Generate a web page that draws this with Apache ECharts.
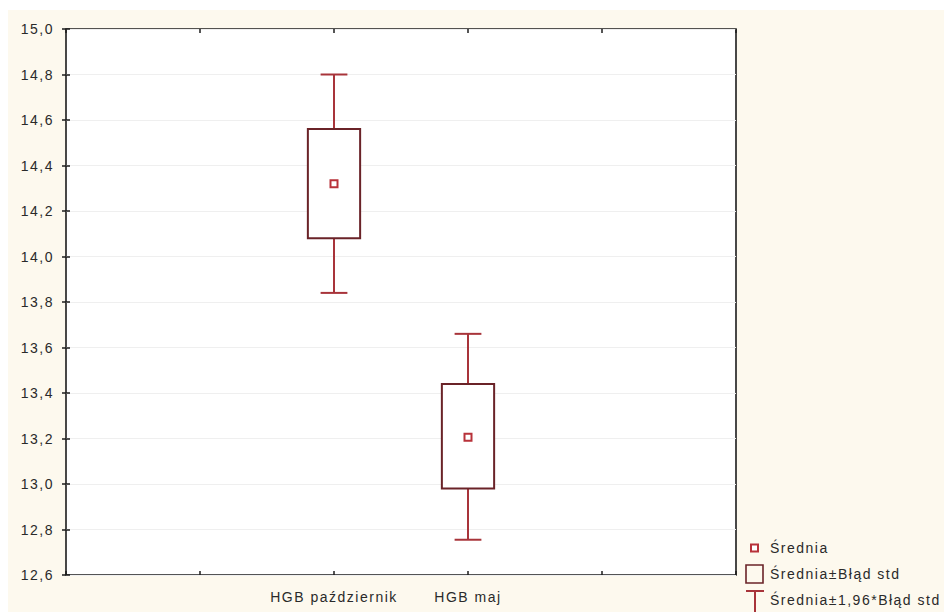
<!DOCTYPE html>
<html>
<head>
<meta charset="utf-8">
<script src="https://cdn.jsdelivr.net/npm/echarts@6/dist/echarts.min.js"></script>
<style>
  html, body { margin: 0; padding: 0; background: #ffffff; }
  #chart { width: 944px; height: 612px; }
  #chart svg text { letter-spacing: 1.5px; }
</style>
</head>
<body>
<div id="chart"></div>
<script>
// ---- data ----
const categories = ['HGB październik', 'HGB maj'];
const categoryPositions = [2, 3];        // position on the 0..5 x-scale
const means  = [14.32, 13.205];
const seLow  = [14.08, 12.98];
const seHigh = [14.56, 13.44];
const ciLow  = [13.84, 12.755];
const ciHigh = [14.80, 13.66];
const yTicks = [12.6, 12.8, 13.0, 13.2, 13.4, 13.6, 13.8, 14.0, 14.2, 14.4, 14.6, 14.8, 15.0];
const legendLabels = ['Średnia', 'Średnia±Błąd std', 'Średnia±1,96*Błąd std'];

// ---- styles ----
const FONT = '"Liberation Sans", Arial, sans-serif';
const BOX_COLOR = '#6a2328';
const WHISKER_COLOR = '#a8343a';
const MEAN_COLOR = '#b8323a';
const TEXT_COLOR = '#2a2a2a';

const seriesData = categories.map((c, i) => [categoryPositions[i], means[i], seLow[i], seHigh[i], ciLow[i], ciHigh[i]]);

const fmtY = v => (Math.round(v * 10) / 10).toFixed(1).replace('.', ',');

function renderItem(params, api) {
  const x = api.value(0);
  const pMean = api.coord([x, api.value(1)]);
  const pSeLo = api.coord([x, api.value(2)]);
  const pSeHi = api.coord([x, api.value(3)]);
  const pCiLo = api.coord([x, api.value(4)]);
  const pCiHi = api.coord([x, api.value(5)]);
  const unit = api.size([1, 0])[0];
  const boxW = unit * 0.39;
  const capW = unit * 0.2;
  const cx = pMean[0];
  const wStyle = { stroke: WHISKER_COLOR, lineWidth: 2, fill: null };
  return {
    type: 'group',
    children: [
      { type: 'line', shape: { x1: cx, y1: pCiHi[1], x2: cx, y2: pSeHi[1] }, style: wStyle },
      { type: 'line', shape: { x1: cx - capW / 2, y1: pCiHi[1], x2: cx + capW / 2, y2: pCiHi[1] }, style: wStyle },
      { type: 'line', shape: { x1: cx, y1: pSeLo[1], x2: cx, y2: pCiLo[1] }, style: wStyle },
      { type: 'line', shape: { x1: cx - capW / 2, y1: pCiLo[1], x2: cx + capW / 2, y2: pCiLo[1] }, style: wStyle },
      { type: 'rect', shape: { x: cx - boxW / 2, y: pSeHi[1], width: boxW, height: pSeLo[1] - pSeHi[1] },
        style: { stroke: BOX_COLOR, lineWidth: 2, fill: '#ffffff' } },
      { type: 'rect', shape: { x: cx - 3.5, y: pMean[1] - 3.5, width: 7, height: 7 },
        style: { stroke: MEAN_COLOR, lineWidth: 2, fill: '#ffffff' } }
    ]
  };
}

const legendX = 746, textX = 770;
const legendRows = [548, 574, 600];

const chart = echarts.init(document.getElementById('chart'), null, { renderer: 'svg', width: 944, height: 612 });
chart.setOption({
  animation: false,
  backgroundColor: '#ffffff',
  grid: {
    left: 66, right: 208, top: 29, bottom: 37,
    show: true, backgroundColor: '#ffffff', borderColor: '#1c1c1c', borderWidth: 1.6
  },
  xAxis: [
    {
      type: 'value', min: 0, max: 5, interval: 1, position: 'bottom',
      axisLine: { show: false },
      axisTick: { show: true, inside: true, length: 4, lineStyle: { color: '#1c1c1c', width: 1.5 } },
      splitLine: { show: false },
      axisLabel: {
        margin: 15, fontSize: 14, fontFamily: FONT, color: TEXT_COLOR,
        formatter: v => { const i = categoryPositions.indexOf(v); return i >= 0 ? categories[i] : ''; }
      }
    },
    {
      type: 'value', min: 0, max: 5, interval: 1, position: 'top',
      axisLine: { show: false },
      axisTick: { show: true, inside: true, length: 4, lineStyle: { color: '#1c1c1c', width: 1.5 } },
      splitLine: { show: false },
      axisLabel: { show: false }
    }
  ],
  yAxis: [
    {
      type: 'value', min: yTicks[0], max: yTicks[yTicks.length - 1], interval: 0.2,
      axisLine: { show: false },
      axisTick: { show: true, inside: true, length: 4, lineStyle: { color: '#1c1c1c', width: 1.5 } },
      splitLine: { show: true, lineStyle: { color: '#efefef', width: 1 } },
      axisLabel: { margin: 12, fontSize: 14, fontFamily: FONT, color: TEXT_COLOR, formatter: fmtY }
    },
    {
      type: 'value', min: yTicks[0], max: yTicks[yTicks.length - 1], interval: 0.2, position: 'right',
      axisLine: { show: false },
      axisTick: { show: true, inside: true, length: 4, lineStyle: { color: '#1c1c1c', width: 1.5 } },
      splitLine: { show: false },
      axisLabel: { show: false }
    }
  ],
  graphic: [
    { type: 'rect', z: -10, silent: true, shape: { x: 8, y: 10, width: 936, height: 602 }, style: { fill: '#fdf9ee' } },
    // legend: mean marker
    { type: 'rect', shape: { x: legendX + 5, y: legendRows[0] - 3.5, width: 7, height: 7 }, style: { stroke: MEAN_COLOR, lineWidth: 2, fill: '#ffffff' } },
    { type: 'text', style: { x: textX, y: legendRows[0], text: legendLabels[0], font: '14px ' + FONT, fill: TEXT_COLOR, textVerticalAlign: 'middle' } },
    // legend: box
    { type: 'rect', shape: { x: legendX, y: legendRows[1] - 9, width: 17, height: 18 }, style: { stroke: BOX_COLOR, lineWidth: 1.6, fill: 'transparent' } },
    { type: 'text', style: { x: textX, y: legendRows[1], text: legendLabels[1], font: '14px ' + FONT, fill: TEXT_COLOR, textVerticalAlign: 'middle' } },
    // legend: whisker
    { type: 'line', shape: { x1: legendX, y1: legendRows[2] - 9, x2: legendX + 18, y2: legendRows[2] - 9 }, style: { stroke: WHISKER_COLOR, lineWidth: 2 } },
    { type: 'line', shape: { x1: legendX + 9, y1: legendRows[2] - 9, x2: legendX + 9, y2: 612 }, style: { stroke: WHISKER_COLOR, lineWidth: 2 } },
    { type: 'text', style: { x: textX, y: legendRows[2], text: legendLabels[2], font: '14px ' + FONT, fill: TEXT_COLOR, textVerticalAlign: 'middle' } }
  ],
  series: [
    {
      type: 'custom',
      name: 'HGB',
      xAxisIndex: 0, yAxisIndex: 0,
      renderItem: renderItem,
      encode: { x: 0, y: [1, 2, 3, 4, 5] },
      data: seriesData,
      z: 5
    }
  ]
});
</script>
</body>
</html>
